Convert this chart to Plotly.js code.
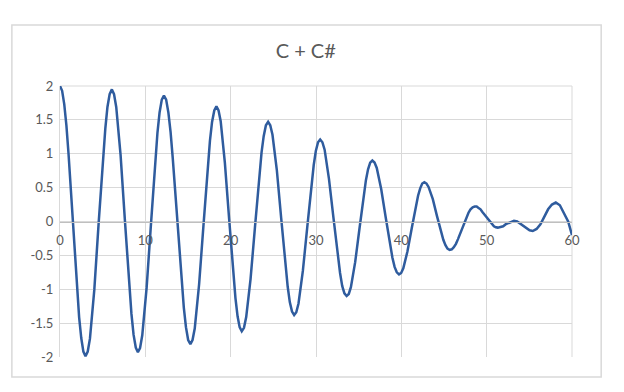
<!DOCTYPE html>
<html>
<head>
<meta charset="utf-8">
<script src="https://cdn.plot.ly/plotly-3.0.1.min.js"></script>
<style>html,body{margin:0;padding:0;background:#fff;}#chart{width:624px;height:392px;}</style>
</head>
<body>
<div id="chart"></div>
<script>
const chartTitle = "C + C#";
const xValues = [
  0, 0.25, 0.50, 0.75, 1.00, 1.50, 1.99, 2.24, 2.49, 2.74, 2.99,
  3.25, 3.51, 3.76, 4.02, 4.53, 5.05, 5.31, 5.56, 5.82, 6.08,
  6.33, 6.59, 6.84, 7.10, 7.61, 8.11, 8.37, 8.62, 8.88, 9.13,
  9.38, 9.64, 9.89, 10.15, 10.66, 11.16, 11.42, 11.67, 11.93, 12.18,
  12.44, 12.70, 12.96, 13.21, 13.73, 14.25, 14.51, 14.76, 15.02, 15.28,
  15.53, 15.79, 16.04, 16.30, 16.81, 17.31, 17.57, 17.82, 18.08, 18.33,
  18.58, 18.83, 19.07, 19.32, 19.82, 20.31, 20.56, 20.81, 21.05, 21.30,
  21.56, 21.82, 22.07, 22.33, 22.85, 23.36, 23.62, 23.87, 24.13, 24.39,
  24.64, 24.90, 25.15, 25.41, 25.92, 26.42, 26.68, 26.93, 27.19, 27.44,
  27.69, 27.95, 28.20, 28.46, 28.97, 29.47, 29.73, 29.98, 30.24, 30.49,
  30.75, 31.01, 31.27, 31.52, 32.04, 32.56, 32.82, 33.07, 33.33, 33.59,
  33.84, 34.09, 34.34, 34.59, 35.10, 35.60, 35.85, 36.10, 36.35, 36.60,
  36.86, 37.12, 37.38, 37.64, 38.17, 38.69, 38.95, 39.21, 39.47, 39.73,
  39.98, 40.23, 40.47, 40.72, 41.22, 41.71, 41.96, 42.21, 42.45, 42.70,
  42.95, 43.19, 43.44, 43.69, 44.18, 44.67, 44.92, 45.17, 45.41, 45.66,
  45.91, 46.15, 46.40, 46.64, 47.13, 47.62, 47.87, 48.11, 48.36, 48.60,
  48.83, 49.05, 49.28, 49.50, 49.95, 50.40, 50.63, 50.85, 51.08, 51.30,
  51.62, 51.93, 52.25, 52.57, 52.88, 53.20,
  53.57, 53.93, 54.30, 54.67, 55.03, 55.40,
  55.85, 56.30, 56.75, 57.20, 57.65, 58.10,
  58.58, 59.07, 59.55, 60.00
];
const yValues = [
  2.00, 1.93, 1.73, 1.42, 1.00, 0.01, -0.99, -1.41, -1.72, -1.92, -1.99,
  -1.92, -1.73, -1.41, -1.01, -0.02, 0.97, 1.37, 1.69, 1.88, 1.95,
  1.88, 1.69, 1.38, 0.98, 0.01, -0.96, -1.36, -1.67, -1.86, -1.93,
  -1.87, -1.68, -1.38, -0.98, -0.04, 0.91, 1.31, 1.61, 1.80, 1.86,
  1.80, 1.61, 1.32, 0.94, 0.03, -0.89, -1.27, -1.56, -1.75, -1.81,
  -1.75, -1.58, -1.30, -0.93, -0.06, 0.82, 1.19, 1.47, 1.64, 1.70,
  1.64, 1.48, 1.21, 0.87, 0.04, -0.79, -1.13, -1.40, -1.56, -1.62,
  -1.57, -1.41, -1.17, -0.85, -0.08, 0.70, 1.02, 1.26, 1.42, 1.47,
  1.42, 1.28, 1.05, 0.76, 0.05, -0.67, -0.96, -1.19, -1.33, -1.38,
  -1.34, -1.21, -1.00, -0.73, -0.09, 0.56, 0.83, 1.04, 1.17, 1.21,
  1.17, 1.06, 0.87, 0.63, 0.06, -0.52, -0.76, -0.95, -1.06, -1.10,
  -1.07, -0.97, -0.81, -0.60, -0.10, 0.40, 0.61, 0.77, 0.87, 0.90,
  0.87, 0.79, 0.65, 0.48, 0.06, -0.36, -0.53, -0.67, -0.75, -0.78,
  -0.76, -0.69, -0.58, -0.44, -0.10, 0.24, 0.38, 0.49, 0.56, 0.58,
  0.56, 0.51, 0.43, 0.33, 0.08, -0.17, -0.27, -0.35, -0.40, -0.42,
  -0.41, -0.38, -0.33, -0.26, -0.10, 0.06, 0.13, 0.18, 0.21, 0.22,
  0.22, 0.20, 0.18, 0.14, 0.07, -0.01, -0.04, -0.07, -0.085, -0.09,
  -0.08, -0.07, -0.04, -0.02, 0.00, 0.01,
  0.00, -0.03, -0.07, -0.10, -0.13, -0.14,
  -0.11, -0.04, 0.07, 0.18, 0.25, 0.28,
  0.24, 0.13, 0.00, -0.20
];
const xTicks = [0, 10, 20, 30, 40, 50, 60];
const yTicks = [-2, -1.5, -1, -0.5, 0, 0.5, 1, 1.5, 2];
const yTickText = ["-2", "-1.5", "-1", "-0.5", "0", "0.5", "1", "1.5", "2"];

const font = "Lato, 'Open Sans', 'Liberation Sans', sans-serif";
const grid = "#d9d9d9";
const txt = "#595959";

const trace = {
  x: xValues, y: yValues, type: "scatter", mode: "lines",
  line: {color: "#2f5c9e", width: 2.5, shape: "linear"},
  hoverinfo: "skip", showlegend: false
};

const layout = {
  width: 624, height: 392,
  margin: {l: 60, r: 52, t: 86, b: 35},
  paper_bgcolor: "#ffffff", plot_bgcolor: "#ffffff",
  font: {family: font, color: txt, size: 13},
  title: {text: chartTitle, font: {family: font, size: 20, color: txt},
          x: 0.49, xref: "container", xanchor: "center",
          y: 0.87, yref: "container", yanchor: "middle"},
  xaxis: {
    range: [0, 60], tickvals: xTicks, ticktext: xTicks.map(String),
    showgrid: true, gridcolor: grid, gridwidth: 1,
    zeroline: false, showline: true, linecolor: "#bfbfbf", linewidth: 1,
    anchor: "free", position: 0.5, ticks: "", ticklabelstandoff: 7,
    tickfont: {family: font, size: 13, color: txt}, fixedrange: true
  },
  yaxis: {
    range: [-2, 2], tickvals: yTicks, ticktext: yTickText,
    showgrid: true, gridcolor: grid, gridwidth: 1,
    zeroline: false, showline: true, linecolor: grid, linewidth: 1,
    ticks: "", ticklabelstandoff: 3,
    tickfont: {family: font, size: 13, color: txt}, fixedrange: true
  },
  shapes: [
    {type: "rect", xref: "paper", yref: "paper", x0: -0.094, x1: 1.057, y0: -0.074, y1: 1.225,
     line: {color: "#d9d9d9", width: 1.5}, fillcolor: "rgba(0,0,0,0)", layer: "below"},
    {type: "line", xref: "paper", yref: "paper", x0: 1, x1: 1, y0: 0, y1: 1,
     line: {color: grid, width: 1}, layer: "below"},
    {type: "line", xref: "paper", yref: "paper", x0: 0, x1: 1, y0: 1, y1: 1,
     line: {color: grid, width: 1}, layer: "below"}
  ]
};

Plotly.newPlot("chart", [trace], layout, {displayModeBar: false, staticPlot: true});
</script>
</body>
</html>
